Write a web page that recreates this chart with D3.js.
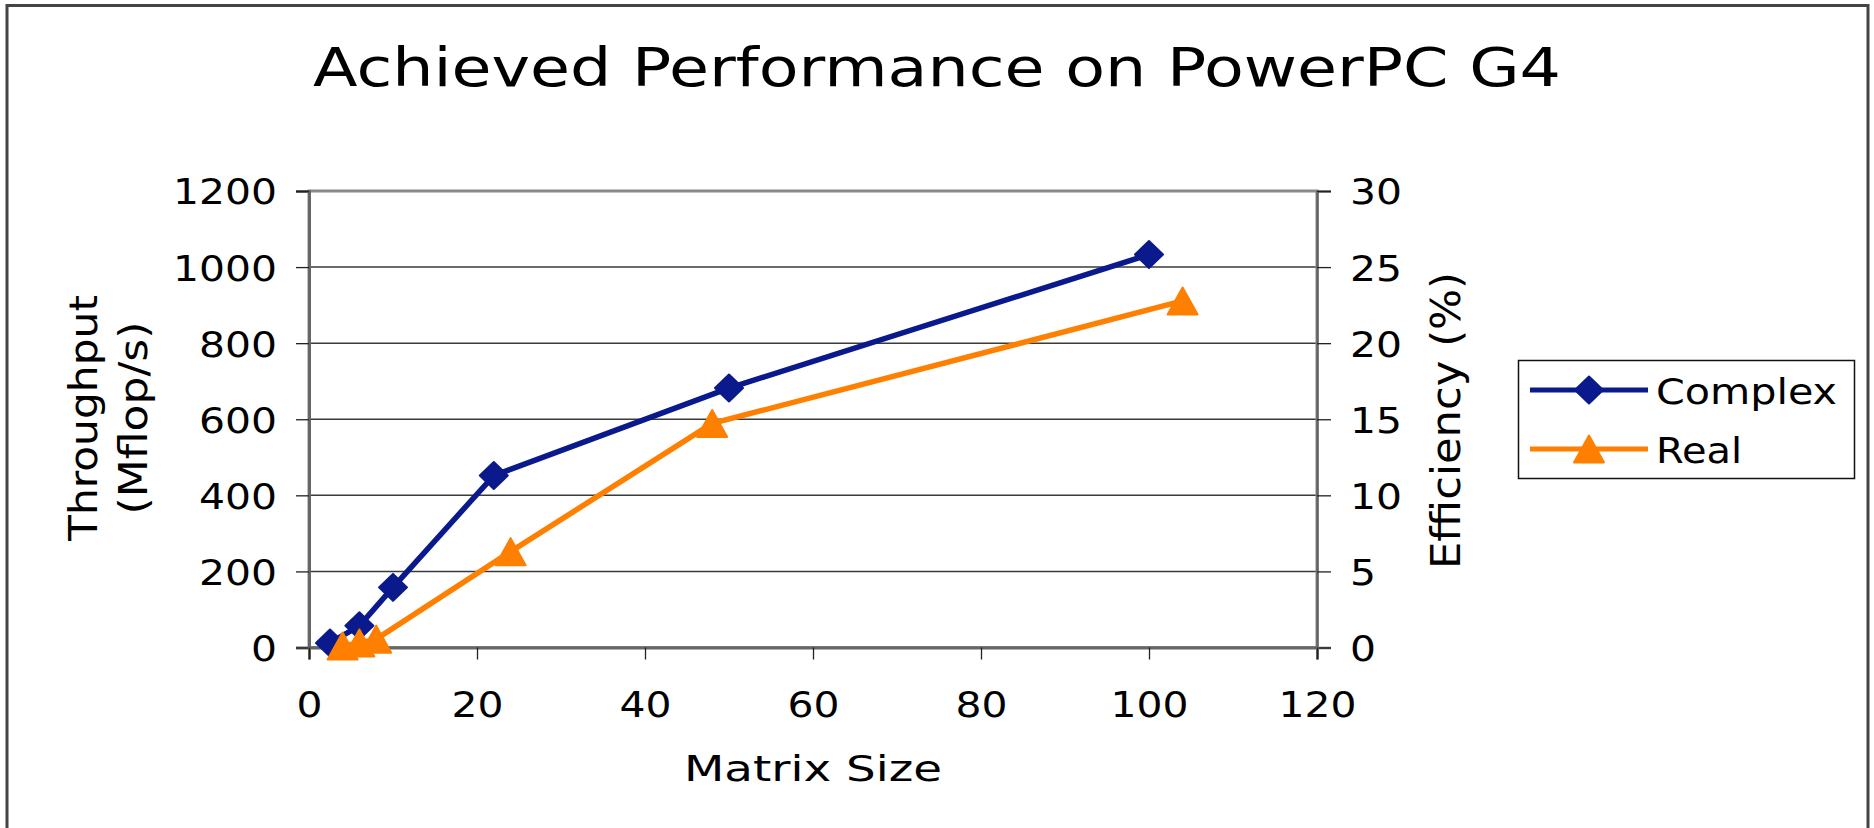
<!DOCTYPE html>
<html>
<head>
<meta charset="utf-8">
<script src="https://cdn.jsdelivr.net/npm/d3@7"></script>
<style>
  html, body { margin: 0; padding: 0; background: #fff; }
  svg { display: block; }
  text { font-family: "DejaVu Sans", Verdana, sans-serif; fill: #000; }
</style>
</head>
<body>
<svg id="chart" width="1874" height="828"></svg>
<script>
// ---- data ----
const titleText = "Achieved Performance on PowerPC G4";
const xLabel = "Matrix Size";
const yLabelLines = ["Throughput", "(Mflop/s)"];
const y2Label = "Efficiency (%)";
const seriesNames = ["Complex", "Real"];
const complexX = [2.5, 6, 10, 22, 50, 100];
const complexY = [12, 57, 158, 452, 682, 1033];
const realX = [4, 6, 8, 24, 48, 104];
const realY = [4, 12, 22, 252, 589, 911];
const xTicks = [0, 20, 40, 60, 80, 100, 120];
const yTicks = [0, 200, 400, 600, 800, 1000, 1200];
const y2Ticks = [0, 5, 10, 15, 20, 25, 30];
const colors = ["#0A1A8C", "#FF7F00"];

// ---- layout ----
const svg = d3.select("#chart");
const L = 309, R = 1317, T = 191, B = 647.5;
const x = d3.scaleLinear().domain([0, 120]).range([L, R]);
const y = d3.scaleLinear().domain([0, 1200]).range([B, T]);
const y2 = d3.scaleLinear().domain([0, 30]).range([B, T]);
const FS = 36;
const charW = 26;

// outer frame
svg.append("rect").attr("x", 7).attr("y", 5.5).attr("width", 1861).attr("height", 900)
  .attr("fill", "none").attr("stroke", "#444").attr("stroke-width", 3);

// title
svg.append("text").attr("x", 937).attr("y", 86).attr("text-anchor", "middle")
  .attr("font-size", 53.5).attr("textLength", 1248).attr("lengthAdjust", "spacingAndGlyphs")
  .text(titleText);

// gridlines
svg.append("g").selectAll("line").data(yTicks.filter(d => d > 0 && d < 1200)).join("line")
  .attr("x1", L).attr("x2", R).attr("y1", d => y(d)).attr("y2", d => y(d))
  .attr("stroke", "#3a3a3a").attr("stroke-width", 1.5);

// plot area border
svg.append("rect").attr("x", L).attr("y", T).attr("width", R - L).attr("height", B - T)
  .attr("fill", "none").attr("stroke", "#8a8a8a").attr("stroke-width", 3);

function styleAxis(g, perChar) {
  g.select(".domain").attr("stroke", "#666").attr("stroke-width", 3);
  g.selectAll(".tick line").attr("stroke", "#222").attr("stroke-width", 1.3);
  g.selectAll(".tick text").attr("font-size", FS).attr("font-family", "DejaVu Sans")
    .attr("fill", "#000")
    .attr("lengthAdjust", "spacingAndGlyphs")
    .attr("textLength", function() { return this.textContent.length * perChar; });
}

// left axis
const gL = svg.append("g").attr("transform", `translate(${L},0)`)
  .call(d3.axisLeft(y).tickValues(yTicks).tickSize(13).tickPadding(19).tickFormat(d3.format("d")));
gL.selectAll(".tick text").attr("dy", "0.36em");
styleAxis(gL, charW);

// right axis
const gR = svg.append("g").attr("transform", `translate(${R},0)`)
  .call(d3.axisRight(y2).tickValues(y2Ticks).tickSize(14).tickPadding(19).tickFormat(d3.format("d")));
gR.selectAll(".tick text").attr("dy", "0.36em");
styleAxis(gR, charW);
gR.select(".domain").attr("stroke-width", 2.5);

// bottom axis
const gB = svg.append("g").attr("transform", `translate(0,${B})`)
  .call(d3.axisBottom(x).tickValues(xTicks).tickSize(12).tickFormat(d3.format("d")));
gB.selectAll(".tick text").attr("y", 69.5).attr("dy", 0);
styleAxis(gB, charW);

// axis titles
svg.append("text").attr("x", 813).attr("y", 781).attr("text-anchor", "middle")
  .attr("font-size", FS).attr("textLength", 258).attr("lengthAdjust", "spacingAndGlyphs")
  .text(xLabel);

const yl = svg.append("text").attr("transform", "translate(0,418) rotate(-90)")
  .attr("text-anchor", "middle").attr("font-size", 39.5);
yl.append("tspan").attr("x", 0).attr("y", 97)
  .attr("textLength", 246).attr("lengthAdjust", "spacingAndGlyphs").text(yLabelLines[0]);
yl.append("tspan").attr("x", 0).attr("y", 147)
  .attr("textLength", 193).attr("lengthAdjust", "spacingAndGlyphs").text(yLabelLines[1]);

svg.append("text").attr("transform", "translate(1460,420.5) rotate(-90)")
  .attr("text-anchor", "middle").attr("font-size", 41)
  .attr("textLength", 297).attr("lengthAdjust", "spacingAndGlyphs")
  .text(y2Label);

// series
const series = [
  { name: seriesNames[0], xs: complexX, ys: complexY, color: colors[0], shape: "diamond" },
  { name: seriesNames[1], xs: realX, ys: realY, color: colors[1], shape: "triangle" }
];

function markerPath(shape, cx, cy) {
  if (shape === "diamond") {
    const w = 14, h = 13.5;
    return `M${cx},${cy - h}L${cx + w},${cy}L${cx},${cy + h}L${cx - w},${cy}Z`;
  }
  const w = 15, h = 13.5;
  return `M${cx},${cy - h}L${cx + w},${cy + h}L${cx - w},${cy + h}Z`;
}

const line = d3.line().x(d => x(d[0])).y(d => y(d[1]));
series.forEach(s => {
  const pts = s.xs.map((v, i) => [v, s.ys[i]]);
  const g = svg.append("g");
  g.append("path").datum(pts).attr("d", line).attr("fill", "none")
    .attr("stroke", s.color).attr("stroke-width", 5.5).attr("stroke-linejoin", "round");
  g.selectAll("path.m").data(pts).join("path").attr("class", "m")
    .attr("d", d => markerPath(s.shape, x(d[0]), y(d[1])))
    .attr("fill", s.color).attr("stroke", s.color).attr("stroke-width", 2)
    .attr("stroke-linejoin", "round");
});

// legend
svg.append("rect").attr("x", 1518.5).attr("y", 360.5).attr("width", 336).attr("height", 118)
  .attr("fill", "#fff").attr("stroke", "#111").attr("stroke-width", 1.5);
const legY = [390, 449];
series.forEach((s, i) => {
  const gy = legY[i];
  svg.append("line").attr("x1", 1530).attr("x2", 1648).attr("y1", gy).attr("y2", gy)
    .attr("stroke", s.color).attr("stroke-width", 5);
  svg.append("path").attr("d", markerPath(s.shape, 1589, gy))
    .attr("fill", s.color).attr("stroke", s.color).attr("stroke-width", 2).attr("stroke-linejoin", "round");
  svg.append("text").attr("x", 1656).attr("y", i === 0 ? 404 : 463)
    .attr("font-size", FS).attr("lengthAdjust", "spacingAndGlyphs")
    .attr("textLength", i === 0 ? 181 : 86)
    .text(s.name);
});
</script>
</body>
</html>
